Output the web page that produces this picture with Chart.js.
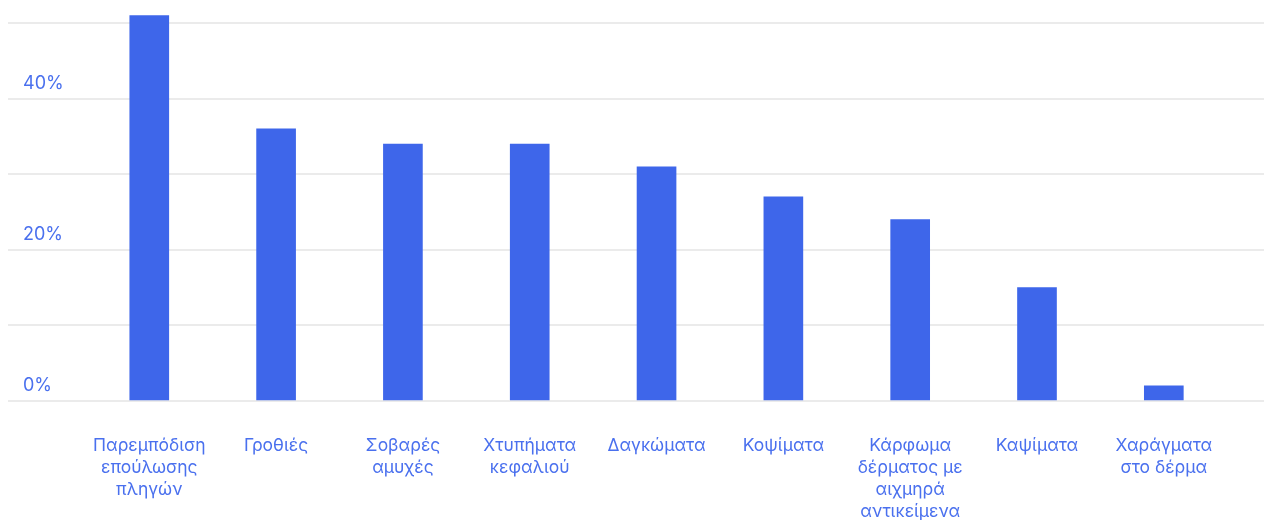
<!DOCTYPE html>
<html>
<head>
<meta charset="utf-8">
<script src="https://cdn.jsdelivr.net/npm/chart.js"></script>
<style>
    html, body { margin: 0; padding: 0; background: #fff; }
    #chart-container { width: 1264px; height: 520px; }
</style>
</head>
<body>
<div id="chart-container"><canvas id="bar-chart"></canvas></div>
<script>
const categories = [
    ['Παρεμπόδιση', 'επούλωσης', 'πληγών'],
    ['Γροθιές'],
    ['Σοβαρές', 'αμυχές'],
    ['Χτυπήματα', 'κεφαλιού'],
    ['Δαγκώματα'],
    ['Κοψίματα'],
    ['Κάρφωμα', 'δέρματος με', 'αιχμηρά', 'αντικείμενα'],
    ['Καψίματα'],
    ['Χαράγματα', 'στο δέρμα']
];
const values = [51, 36, 34, 34, 31, 27, 24, 15, 2];
const yTicks = [0, 10, 20, 30, 40, 50];
const yLabelled = [0, 20, 40];

const blue = '#3e66ea';
const textBlue = '#4a70ee';

const ctx = document.getElementById('bar-chart');

new Chart(ctx, {
    type: 'bar',
    data: {
        datasets: [{
            data: values.map((v, i) => ({x: i, y: v})),
            backgroundColor: blue,
            barThickness: 39
        }]
    },
    options: {
        responsive: true,
        maintainAspectRatio: false,
        animation: false,
        layout: {
            padding: {left: 8, right: 0, top: 8, bottom: 0}
        },
        plugins: {
            legend: {display: false},
            tooltip: {enabled: false}
        },
        scales: {
            x: {
                type: 'linear',
                offset: false,
                min: -1.114,
                max: 8.79,
                grid: {display: false, drawTicks: false},
                border: {display: false},
                afterBuildTicks: scale => {
                    scale.ticks = categories.map((_, i) => ({value: i}));
                },
                afterFit: scale => {
                    scale.height = 119;
                    scale.paddingLeft = 0;
                    scale.paddingRight = 0;
                },
                ticks: {
                    autoSkip: false,
                    maxRotation: 0,
                    padding: 34,
                    color: textBlue,
                    font: {family: 'Inter', size: 17.5, lineHeight: '22px'},
                    callback: v => categories[v]
                }
            },
            y: {
                min: 0,
                max: 52,
                grid: {color: '#ebebeb', lineWidth: 2, drawTicks: false},
                border: {display: false},
                afterBuildTicks: scale => {
                    scale.ticks = yTicks.map(v => ({value: v}));
                },
                afterFit: scale => {
                    scale.width = 0;
                    scale.paddingTop = 0;
                    scale.paddingBottom = 0;
                },
                ticks: {
                    mirror: true,
                    padding: 15,
                    labelOffset: -15,
                    color: textBlue,
                    font: {family: 'Inter', size: 18},
                    callback: v => yLabelled.includes(v) ? v + '%' : ''
                }
            }
        }
    }
});
</script>
</body>
</html>
